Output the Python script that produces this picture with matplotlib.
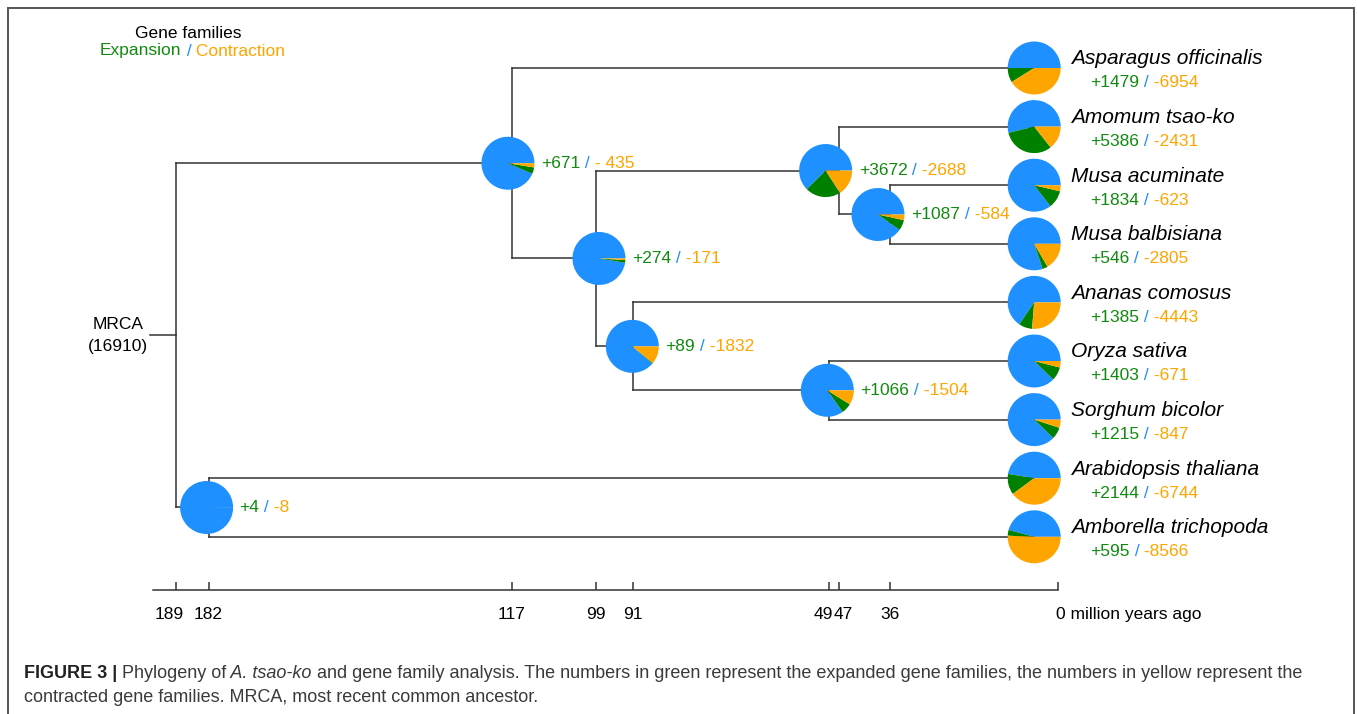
import matplotlib
matplotlib.use('Agg')
import matplotlib.pyplot as plt
from matplotlib.patches import Wedge, Rectangle
from matplotlib.transforms import ScaledTranslation

plt.rcParams['font.family'] = ['Liberation Sans', 'DejaVu Sans']

# ---- data ----
TOTAL = 16910  # gene families in MRCA
species = ['Asparagus officinalis', 'Amomum tsao-ko', 'Musa acuminate', 'Musa balbisiana',
           'Ananas comosus', 'Oryza sativa', 'Sorghum bicolor', 'Arabidopsis thaliana',
           'Amborella trichopoda']
leaf_expanded = [1479, 5386, 1834, 546, 1385, 1403, 1215, 2144, 595]
leaf_contracted = [6954, 2431, 623, 2805, 4443, 671, 847, 6744, 8566]

node_ids = ['root', 'n117', 'n99', 'n47', 'n36', 'n91', 'n49', 'n182']
node_age = [189, 117, 99, 47, 36, 91, 49, 182]
node_children = [('n117', 'n182'), (0, 'n99'), ('n47', 'n91'), (1, 'n36'), (2, 3),
                 (4, 'n49'), (5, 6), (7, 8)]
node_expanded = [None, 671, 274, 3672, 1087, 89, 1066, 4]
node_contracted = [None, 435, 171, 2688, 584, 1832, 1504, 8]
node_con_text = [None, '- 435', '-171', '-2688', '-584', '-1832', '-1504', '-8']

tick_ages = [189, 182, 117, 99, 91, 49, 47, 36, 0]

# ---- style ----
BLUE = '#1E90FF'
GREEN = '#008000'
ORANGE = '#FFA500'
TXT_GREEN = '#118a11'
LINE = '#333333'
FS = 12.5
LEAF_AGE = 5.1      # where leaf pies sit
AXIS_Y = 8.91
pie_dx = {'n117': -4, 'n99': 3, 'n47': -13, 'n36': -12, 'n91': -1, 'n49': -2, 'n182': -2}
tick_label_dx = {189: -7, 49: -6, 47: 5}

fig = plt.figure(figsize=(13.57, 7.14), dpi=100)
ax = fig.add_axes([0, 0, 1, 1])
ax.set_xlim(226.7, -64.07)
ax.set_ylim(11.024, -1.1604)
ax.axis('off')

fig.add_artist(Rectangle((8 / 1357, -0.05), 1346 / 1357, 1 - 8 / 714 + 0.05,
                         transform=fig.transFigure, fill=False, ec='#555555', lw=1.4))

idx = {n: i for i, n in enumerate(node_ids)}


def ypos(c):
    if isinstance(c, int):
        return c
    a, b = node_children[idx[c]]
    return (ypos(a) + ypos(b)) / 2


def xpos(c):
    return LEAF_AGE if isinstance(c, int) else node_age[idx[c]]


def pie(x, y, exp, con, dx=0):
    tr = (fig.dpi_scale_trans + ScaledTranslation(x, y, ax.transData)
          + ScaledTranslation(dx / 100, 0, fig.dpi_scale_trans))
    r = 0.265
    c = con / TOTAL * 360
    e = exp / TOTAL * 360
    for t1, t2, col in [(0, 360 - c - e, BLUE), (-c - e, -c, GREEN), (-c, 0, ORANGE)]:
        ax.add_patch(Wedge((0, 0), r, t1, t2, facecolor=col, lw=0, transform=tr, zorder=3))


def chain(parts, xy, xytext, coords='data', va='center'):
    s, kw = parts[0]
    prev = ax.annotate(s, xy=xy, xycoords=coords, xytext=xytext, textcoords='offset pixels',
                       ha='left', va=va, **kw)
    for s, kw in parts[1:]:
        prev = ax.annotate(s, xy=(1, 0), xycoords=prev, ha='left', va='bottom', **kw)
    return prev


def counts(exp, con_txt):
    return [('+%d' % exp, dict(color=TXT_GREEN, fontsize=FS)),
            (' /', dict(color=BLUE, fontsize=FS)),
            (' ' + con_txt, dict(color=ORANGE, fontsize=FS))]


# tree branches
for i, name in enumerate(node_ids):
    age = node_age[i]
    ch = node_children[i]
    ys = [ypos(c) for c in ch]
    ax.plot([age, age], [min(ys), max(ys)], color=LINE, lw=1.1, zorder=1)
    for c in ch:
        ax.plot([age, xpos(c)], [ypos(c), ypos(c)], color=LINE, lw=1.1, zorder=1)

# root stub + label
ry = ypos('root')
ax.plot([194.6, 189], [ry, ry], color=LINE, lw=1.1)
ax.annotate('MRCA\n(16910)', xy=(194.6, ry), xytext=(-32, 0), textcoords='offset pixels',
            ha='center', va='center', fontsize=FS, multialignment='center', linespacing=1.6)

# internal node pies
for i, name in enumerate(node_ids):
    if node_expanded[i] is None:
        continue
    x, y = node_age[i], ypos(name)
    dx = pie_dx.get(name, 0)
    pie(x, y, node_expanded[i], node_contracted[i], dx)
    chain(counts(node_expanded[i], node_con_text[i]), (x, y), (dx + 33, 0))

# leaves
for i, sp in enumerate(species):
    pie(LEAF_AGE, i, leaf_expanded[i], leaf_contracted[i])
    ax.annotate(sp, xy=(LEAF_AGE, i), xytext=(37, 9), textcoords='offset pixels',
                ha='left', va='center', fontsize=15, style='italic')
    chain(counts(leaf_expanded[i], '-%d' % leaf_contracted[i]), (LEAF_AGE, i), (56, -15))

# time axis
ax.plot([193.9, 0], [AXIS_Y, AXIS_Y], color=LINE, lw=1.1)
ax.vlines(tick_ages, AXIS_Y - 8 / 58.6, AXIS_Y, color=LINE, lw=1.1)
for a in tick_ages:
    if a == 0:
        ax.annotate('0 million years ago', xy=(a, AXIS_Y), xytext=(-2, -24),
                    textcoords='offset pixels', ha='left', va='center', fontsize=FS)
    else:
        ax.annotate(str(a), xy=(a, AXIS_Y), xytext=(tick_label_dx.get(a, 0), -24),
                    textcoords='offset pixels', ha='center', va='center', fontsize=FS)

# legend text
ax.annotate('Gene families', xy=(188, 714 - 34), xycoords='figure pixels',
            ha='center', va='center', fontsize=FS)
chain([('Expansion', dict(color=TXT_GREEN, fontsize=FS)),
       (' /', dict(color=BLUE, fontsize=FS)),
       (' Contraction', dict(color=ORANGE, fontsize=FS))],
      (100, 714 - 51), (0, 0), coords='figure pixels')

# caption
CAP = '#3a3a3a'
cfs = 13
chain([('FIGURE 3 |', dict(color='#222222', fontsize=cfs, fontweight='bold')),
       (' Phylogeny of', dict(color=CAP, fontsize=cfs)),
       (' A. tsao-ko', dict(color=CAP, fontsize=cfs, style='italic')),
       (' and gene family analysis. The numbers in green represent the expanded gene '
        'families, the numbers in yellow represent the', dict(color=CAP, fontsize=cfs))],
      (24, 714 - 673), (0, 0), coords='figure pixels')
ax.annotate('contracted gene families. MRCA, most recent common ancestor.',
            xy=(24, 714 - 697), xycoords='figure pixels', ha='left', va='center',
            fontsize=cfs, color=CAP)

fig.savefig('out.png', dpi=100)
